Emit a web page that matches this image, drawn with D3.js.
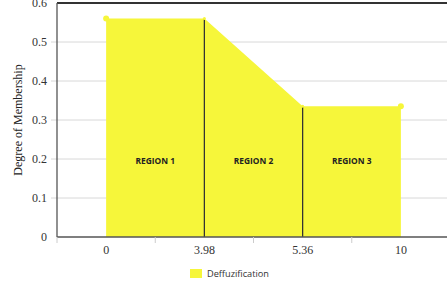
<!DOCTYPE html>
<html>
<head>
<meta charset="utf-8">
<script src="https://cdn.jsdelivr.net/npm/d3@7"></script>
<style>
  body { margin: 0; background: #fff; }
  svg { display: block; }
</style>
</head>
<body>
<script>
const width = 447;
const height = 284;

// chart data
const xLabels = ["0", "3.98", "5.36", "10"];
const membership = [0.56, 0.56, 0.335, 0.335];
const regionNames = ["REGION 1", "REGION 2", "REGION 3"];
const yTicks = [0, 0.1, 0.2, 0.3, 0.4, 0.5, 0.6];
const seriesName = "Deffuzification";

const margin = {left: 57, right: -3, top: 3, bottom: 47};
const fill = "#f6f63a";

const svg = d3.select("body").append("svg")
    .attr("width", width)
    .attr("height", height);

const x = d3.scalePoint()
    .domain(xLabels)
    .range([margin.left, width - margin.right])
    .padding(0.5);

const y = d3.scaleLinear()
    .domain([0, 0.6])
    .range([height - margin.bottom, margin.top]);

const serif = "'Liberation Serif', 'Times New Roman', serif";
const sans = "'Open Sans', 'DejaVu Sans', sans-serif";

// grid lines
svg.append("g")
    .selectAll("line")
    .data(yTicks.slice(1, -1))
    .enter()
    .append("line")
    .attr("x1", margin.left - 6)
    .attr("x2", width)
    .attr("y1", d => y(d))
    .attr("y2", d => y(d))
    .style("stroke", "#d8d8d8")
    .style("stroke-width", 1);

// y tick labels
svg.append("g")
    .selectAll("text")
    .data(yTicks)
    .enter()
    .append("text")
    .attr("x", margin.left - 10)
    .attr("y", d => y(d) + 4)
    .attr("text-anchor", "end")
    .style("font-family", serif)
    .style("font-size", "12px")
    .style("fill", "#333")
    .text(d => d);

const pts = xLabels.map((d, i) => ({key: d, v: membership[i]}));

// area
const area = d3.area()
    .x(d => x(d.key))
    .y0(y(0))
    .y1(d => y(d.v));

svg.append("path")
    .datum(pts)
    .attr("d", area)
    .style("fill", fill);

// top border
svg.append("line")
    .attr("x1", margin.left)
    .attr("x2", width)
    .attr("y1", y(0.6))
    .attr("y2", y(0.6))
    .style("stroke", "#333")
    .style("stroke-width", 2);

// region dividers
svg.append("g")
    .selectAll("line")
    .data(pts.slice(1, -1))
    .enter()
    .append("line")
    .attr("x1", d => x(d.key))
    .attr("x2", d => x(d.key))
    .attr("y1", d => y(d.v))
    .attr("y2", y(0))
    .style("stroke", "#333")
    .style("stroke-width", 1.3);

// dots
svg.append("g")
    .selectAll("circle")
    .data(pts)
    .enter()
    .append("circle")
    .attr("cx", d => x(d.key))
    .attr("cy", d => y(d.v))
    .attr("r", (d, i) => (i === 0 || i === pts.length - 1) ? 3 : 1.5)
    .style("fill", fill);

// region labels
svg.append("g")
    .selectAll("text")
    .data(regionNames)
    .enter()
    .append("text")
    .attr("x", (d, i) => (x(xLabels[i]) + x(xLabels[i + 1])) / 2)
    .attr("y", y(0.2) + 5)
    .attr("text-anchor", "middle")
    .style("font-family", sans)
    .style("font-size", "8.4px")
    .style("font-weight", "bold")
    .style("fill", "#222")
    .text(d => d);

// axes lines
svg.append("line")
    .attr("x1", margin.left)
    .attr("x2", width)
    .attr("y1", y(0))
    .attr("y2", y(0))
    .style("stroke", "#555")
    .style("stroke-width", 1.3);

svg.append("line")
    .attr("x1", margin.left)
    .attr("x2", margin.left)
    .attr("y1", y(0.6))
    .attr("y2", y(0))
    .style("stroke", "#555")
    .style("stroke-width", 1.3);

// x ticks between categories
const step = x.step();
svg.append("g")
    .selectAll("line")
    .data(xLabels)
    .enter()
    .append("line")
    .attr("x1", d => x(d) - step / 2)
    .attr("x2", d => x(d) - step / 2)
    .attr("y1", y(0))
    .attr("y2", y(0) + 6)
    .style("stroke", "#ccc");

// x tick labels
svg.append("g")
    .selectAll("text")
    .data(xLabels)
    .enter()
    .append("text")
    .attr("x", d => x(d))
    .attr("y", y(0) + 17)
    .attr("text-anchor", "middle")
    .style("font-family", serif)
    .style("font-size", "12px")
    .style("fill", "#333")
    .text(d => d);

// y axis title
svg.append("text")
    .attr("transform", `translate(22, ${(y(0) + y(0.6)) / 2}) rotate(-90)`)
    .attr("text-anchor", "middle")
    .style("font-family", serif)
    .style("font-size", "12px")
    .style("fill", "#222")
    .text("Degree of Membership");

// legend
const legend = svg.append("g").attr("transform", "translate(190, 269)");
legend.append("rect")
    .attr("width", 12)
    .attr("height", 9)
    .style("fill", fill);
legend.append("text")
    .attr("x", 17)
    .attr("y", 8)
    .style("font-family", sans)
    .style("font-size", "9.2px")
    .style("fill", "#333")
    .text(seriesName);
</script>
</body>
</html>
